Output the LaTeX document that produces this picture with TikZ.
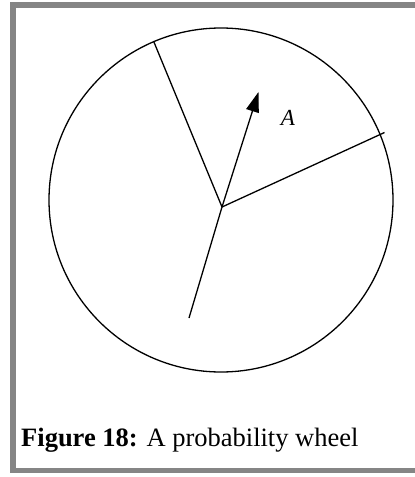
\documentclass[tikz,border=0pt]{standalone}
\usepackage{fontspec}
\setmainfont{Liberation Serif}
\usepackage{tikz}
\usetikzlibrary{arrows.meta,positioning}
\usepackage{xcolor}
\definecolor{Frame}{HTML}{858585}
\tikzset{
  frameband/.style={fill=Frame, draw=none},
  wheelrim/.style={circle, draw=black, line width=1.3pt, minimum size=344pt, inner sep=0pt},
  spoke/.style={draw=black, line width=1.3pt},
  pointer/.style={-{Triangle[length=20pt, width=13pt]}, line width=1.3pt, draw=black},
  caption/.style={font=\fontsize{26.5}{31}\selectfont, inner sep=0pt, anchor=base west}
}
\begin{document}
\begin{tikzpicture}[x=1pt, y=-1pt]
\useasboundingbox (0,0) rectangle (415,477);
% frame
\fill[frameband] (10,2) rectangle (415,7.5);
\fill[frameband] (10,2) rectangle (16,473);
\fill[frameband] (10,467.5) rectangle (415,473);
% wheel
\node[wheelrim] (wheel) at (221,200) {};
\coordinate (hub) at (222,207);
\coordinate (rimend) at (384.5,132.5);
\coordinate (lowend) at (189,318);
\coordinate (tip) at (258.5,92);
\draw[spoke] (hub) -- (wheel.113.4);
\draw[spoke] (hub) -- (rimend);
\draw[spoke] (hub) -- (lowend);
\draw[pointer] (hub) -- (tip);
\node[font=\fontsize{23}{27}\selectfont\itshape, inner sep=0pt] (lbl) at (288,118) {A};
% caption
\node[caption] (cap) at (21,446) {\textbf{Figure 18:} A probability wheel};
\end{tikzpicture}
\end{document}
